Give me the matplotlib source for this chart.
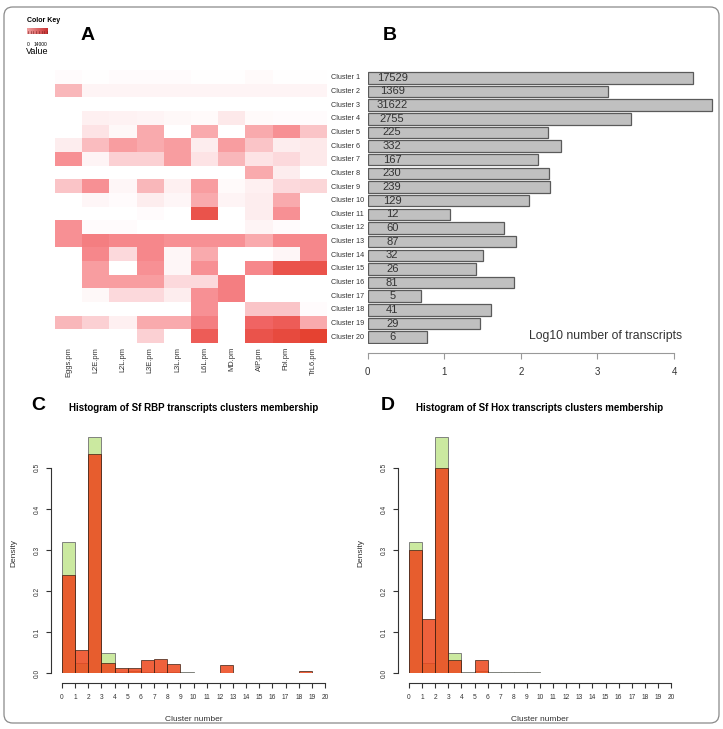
import numpy as np
import matplotlib
matplotlib.use("Agg")
import matplotlib.pyplot as plt
from matplotlib.colors import LinearSegmentedColormap
from matplotlib.patches import FancyBboxPatch
from matplotlib.transforms import blended_transform_factory

plt.rcParams['font.family'] = ['Liberation Sans', 'DejaVu Sans']

# ---- data ----
stages = ['Eggs.pm', 'L2E.pm', 'L2L.pm', 'L3E.pm', 'L3L.pm',
          'L6L.pm', 'MD.pm', 'AIP.pm', 'Fbl.pm', 'TrL6.pm']
clusters = ['Cluster %d' % i for i in range(1, 21)]

# relative expression (0 = white, 1 = deep red)
heat = [
    [0.02, 0.01, 0.02, 0.02, 0.02, 0.01, 0.01, 0.03, 0.01, 0.01],
    [0.35, 0.06, 0.06, 0.06, 0.06, 0.06, 0.06, 0.06, 0.06, 0.06],
    [0.00, 0.00, 0.00, 0.00, 0.00, 0.00, 0.00, 0.00, 0.00, 0.00],
    [0.00, 0.08, 0.07, 0.06, 0.04, 0.03, 0.12, 0.03, 0.02, 0.02],
    [0.00, 0.15, 0.04, 0.40, 0.00, 0.40, 0.00, 0.40, 0.50, 0.30],
    [0.10, 0.33, 0.45, 0.40, 0.45, 0.10, 0.45, 0.30, 0.10, 0.12],
    [0.50, 0.06, 0.25, 0.25, 0.45, 0.15, 0.35, 0.15, 0.20, 0.12],
    [0.00, 0.00, 0.00, 0.00, 0.00, 0.00, 0.00, 0.40, 0.10, 0.00],
    [0.30, 0.50, 0.05, 0.35, 0.08, 0.45, 0.03, 0.08, 0.20, 0.22],
    [0.00, 0.05, 0.02, 0.10, 0.05, 0.40, 0.06, 0.10, 0.40, 0.00],
    [0.00, 0.00, 0.00, 0.02, 0.00, 0.85, 0.00, 0.10, 0.50, 0.00],
    [0.50, 0.02, 0.02, 0.00, 0.00, 0.00, 0.00, 0.06, 0.02, 0.00],
    [0.50, 0.60, 0.55, 0.55, 0.50, 0.50, 0.50, 0.40, 0.55, 0.55],
    [0.00, 0.55, 0.20, 0.55, 0.05, 0.40, 0.00, 0.00, 0.05, 0.55],
    [0.00, 0.45, 0.00, 0.50, 0.05, 0.50, 0.00, 0.55, 0.85, 0.85],
    [0.00, 0.45, 0.45, 0.45, 0.20, 0.20, 0.60, 0.00, 0.00, 0.00],
    [0.00, 0.04, 0.20, 0.20, 0.10, 0.50, 0.60, 0.00, 0.00, 0.00],
    [0.00, 0.00, 0.00, 0.00, 0.00, 0.50, 0.00, 0.30, 0.30, 0.02],
    [0.35, 0.25, 0.08, 0.40, 0.40, 0.60, 0.00, 0.75, 0.80, 0.40],
    [0.00, 0.00, 0.00, 0.25, 0.00, 0.80, 0.00, 0.85, 0.90, 0.95],
]

# number of transcripts per cluster
counts = [17529, 1369, 31622, 2755, 225, 332, 167, 230, 239, 129,
          12, 60, 87, 32, 26, 81, 5, 41, 29, 6]

# densities of RBP and Hox transcripts per cluster bin (0-1 = cluster 1, ...)
rbp_density = [0.24, 0.057, 0.533, 0.024, 0.012, 0.014, 0.033, 0.036, 0.022, 0.0,
               0.0, 0.0, 0.020, 0.0, 0.0, 0.0, 0.0, 0.0, 0.006, 0.0]
hox_density = [0.30, 0.133, 0.50, 0.033, 0.0, 0.033, 0.0, 0.0, 0.0, 0.0,
               0.0, 0.0, 0.0, 0.0, 0.0, 0.0, 0.0, 0.0, 0.0, 0.0]

W, H = 723, 729
fig = plt.figure(figsize=(W / 100, H / 100), dpi=100)


def rect(x0, y0, x1, y1):
    # pixel box (top-left origin) -> figure fraction
    return [x0 / W, 1 - y1 / H, (x1 - x0) / W, (y1 - y0) / H]


# rounded frame around the whole figure
fig.patches.append(FancyBboxPatch((4 / W, 6 / H), 715 / W, 716 / H,
                                  boxstyle="round,pad=0,rounding_size=0.012",
                                  transform=fig.transFigure, fill=False,
                                  edgecolor='#8a8a8a', lw=0.9))

cmap = LinearSegmentedColormap.from_list(
    'wr', ['#ffffff', '#fbd0d3', '#f79094', '#f06464', '#e23a25'])

# ---- A: heatmap ----
ax_a = fig.add_axes(rect(55, 70, 327, 343))
ax_a.pcolormesh(np.array(heat), cmap=cmap, vmin=0, vmax=1)
ax_a.set_xlim(0, 10)
ax_a.set_ylim(20, 0)
ax_a.set_xticks(np.arange(10) + 0.5)
ax_a.set_xticklabels(stages, rotation=90, fontsize=5.4, color='#333')
ax_a.tick_params(axis='x', length=0, pad=3)
ax_a.set_yticks([])
for s in ax_a.spines.values():
    s.set_visible(False)

# color key
ax_k = fig.add_axes(rect(27, 28, 48, 34))
ax_k.imshow(np.linspace(0, 1, 50)[None, :], cmap=LinearSegmentedColormap.from_list(
    'k', ['#f0a0a0', '#c83030']), aspect='auto', extent=(0, 1, 0, 1))
for xk in np.linspace(0.05, 0.95, 8):
    ax_k.plot([xk, xk], [0, 0.5], color='#7a2020', lw=0.4)
ax_k.set_xlim(0, 1)
ax_k.set_ylim(0, 1)
ax_k.set_xticks([])
ax_k.set_yticks([])
for s in ax_k.spines.values():
    s.set_visible(False)
fig.text(27 / W, 1 - 21 / H, 'Color Key', fontsize=5, weight='bold', va='center')
fig.text(27 / W, 1 - 44 / H, '0', fontsize=3.5, va='center')
fig.text(34 / W, 1 - 44 / H, '14000', fontsize=3.5, va='center')
fig.text(26 / W, 1 - 51 / H, 'Value', fontsize=6.5, va='center')

fig.text(88 / W, 1 - 36 / H, 'A', fontsize=14, weight='bold', va='center', ha='center')
fig.text(390 / W, 1 - 36 / H, 'B', fontsize=14, weight='bold', va='center', ha='center')

# ---- B: log10 bar chart ----
px_per_unit = (674 - 367.7) / 4
ax_b = fig.add_axes(rect(367.7, 71, 720, 344))
ax_b.set_xlim(0, (720 - 367.7) / px_per_unit)
ypos = np.arange(1, 21)
ax_b.barh(ypos, np.log10(counts), height=0.84, color='#c0c0c0',
          edgecolor='#5a5a5a', lw=0.9)
ax_b.set_ylim(20.5, 0.5)
for y, c in zip(ypos, counts):
    ax_b.text(0.32, y, str(c), fontsize=8, ha='center', va='center', color='#333')
ax_b.text(2.1, 19.95, 'Log10 number of transcripts', fontsize=8.8, va='center', color='#333')
tr = blended_transform_factory(fig.transFigure, ax_b.transData)
for y, name in zip(ypos, clusters):
    ax_b.text(331 / W, y, name, fontsize=5.2, va='center', ha='left',
              color='#333', transform=tr)
for side in ['top', 'right', 'left']:
    ax_b.spines[side].set_visible(False)
ax_b.spines['bottom'].set_position(('outward', 6.5))
ax_b.spines['bottom'].set_bounds(0, 4)
ax_b.spines['bottom'].set_color('#999')
ax_b.set_yticks([])
ax_b.set_xticks(range(5))
ax_b.tick_params(axis='x', length=4, color='#999', labelsize=7, labelcolor='#333', pad=6)


# ---- C / D: histograms ----
all_density = np.array(counts) / np.sum(counts)
bins = np.arange(20)


def hist_panel(x0, x1, yaxis_x, title, letter, letter_x, red):
    unit = 41.1
    top = 673.3 - 0.585 * unit * 10
    ax = fig.add_axes(rect(x0, top, x1, 673.3))
    ax.set_xlim(0, 20)
    ax.set_ylim(0, 0.585)
    ax.bar(bins, all_density, width=1, align='edge', color='#cbe9a0',
           edgecolor='#707070', lw=0.6)
    ax.bar(bins, red, width=1, align='edge', color=(0.93, 0.27, 0.1, 0.85),
           edgecolor=(0.2, 0.1, 0.05, 0.8), lw=0.6)
    for side in ['top', 'right']:
        ax.spines[side].set_visible(False)
    ax.spines['left'].set_position(('outward', (x0 - yaxis_x) * 0.72))
    ax.spines['bottom'].set_position(('outward', 7.2))
    ax.spines['left'].set_bounds(0, 0.5)
    ax.spines['bottom'].set_bounds(0, 20)
    for s in ['left', 'bottom']:
        ax.spines[s].set_color('#333')
        ax.spines[s].set_linewidth(0.8)
    ax.set_xticks(range(21))
    ax.set_yticks([0, 0.1, 0.2, 0.3, 0.4, 0.5])
    ax.set_yticklabels(['0.0', '0.1', '0.2', '0.3', '0.4', '0.5'], rotation=90, va='center')
    ax.tick_params(length=3.5, width=0.8, color='#333', labelsize=4.8, labelcolor='#333', pad=4)
    ax.set_xlabel('Cluster number', fontsize=6, color='#333', labelpad=11)
    ax.set_ylabel('Density', fontsize=6, color='#333', labelpad=12)
    cx = (x0 + x1) / 2 / W
    fig.text(cx, 1 - 408 / H, title, fontsize=7, weight='bold', ha='center', va='center')
    fig.text(letter_x / W, 1 - 405 / H, letter, fontsize=14, weight='bold',
             ha='center', va='center')
    return ax


hist_panel(62, 325, 51, 'Histogram of Sf RBP transcripts clusters membership', 'C', 38, rbp_density)
hist_panel(409, 671, 398, 'Histogram of Sf Hox transcripts clusters membership', 'D', 388, hox_density)

fig.savefig('out.png', dpi=100)
